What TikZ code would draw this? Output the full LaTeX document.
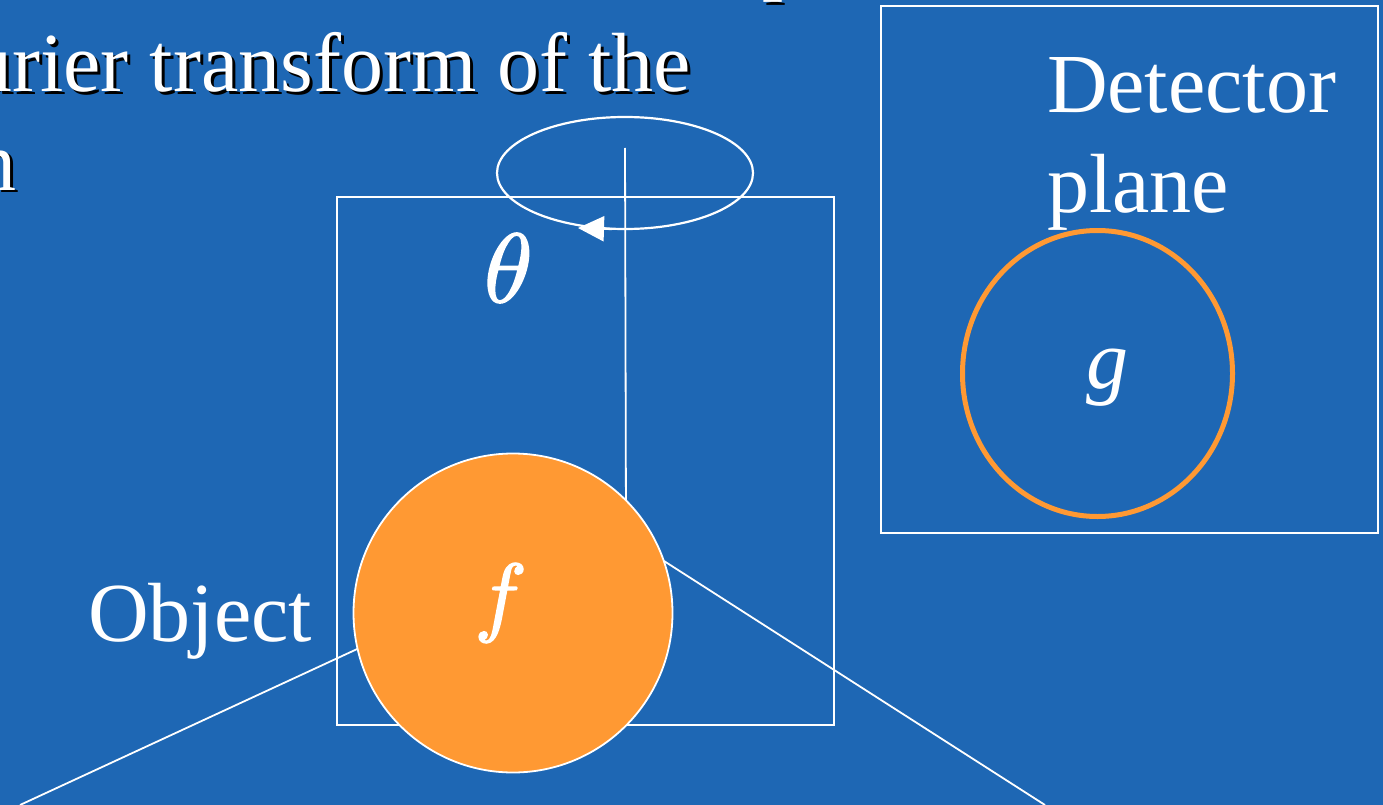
\documentclass[tikz,border=0pt]{standalone}
\usepackage{fontspec}
\setmainfont{Liberation Serif}
\newfontfamily\mathglyph[FakeBold=1.6]{latinmodern-math.otf}
\usetikzlibrary{arrows.meta,shapes.geometric}
\definecolor{bg}{RGB}{30,103,180}
\definecolor{org}{RGB}{255,153,51}
\begin{document}
\begin{tikzpicture}[x=1pt,y=-1pt,
  big/.style={text=white,font=\fontsize{84}{84}\selectfont,inner sep=0pt,outer sep=0pt},
  shade/.style={big,text=black},
  thin/.style={draw=white,line width=1.5pt},
  ray/.style={draw=white,line width=1.8pt}]
\fill[bg] (0,0) rectangle (1383,805);
\clip (0,0) rectangle (1383,805);
% title text with drop shadow
\node[shade,anchor=base west] (ps) at (765,-12) {p};
\node[big,anchor=base west] (p) at (762,-15) {p};
\node[shade,anchor=base east] (t1s) at (694,95) {urier transform of the};
\node[big,anchor=base east] (t1) at (691,92) {urier transform of the};
\node[shade,anchor=base east] (t2s) at (20,193) {n};
\node[big,anchor=base east] (t2) at (17,190) {n};
% frames
\node[thin,rectangle,minimum width=497pt,minimum height=528pt,inner sep=0pt] (frame) at (585.5,461) {};
\node[thin,rectangle,minimum width=497pt,minimum height=527pt,inner sep=0pt] (det) at (1129.5,269.5) {};
% rotation ellipse
\node[draw=white,line width=2.2pt,ellipse,minimum width=256pt,minimum height=112pt,inner sep=0pt] (rot) at (625,173) {};
\coordinate (arrs) at (612,229);
\coordinate (arre) at (578,228);
\draw[white,line width=2.2pt,-{Triangle[length=26pt,width=25pt]}] (arrs) -- (arre);
\node[big,font=\fontsize{98}{98}\mathglyph,anchor=base] (theta) at (507,302) {𝜃};
% rays
\coordinate (axtop) at (625,148);
\coordinate (bl) at (20,805);
\coordinate (br) at (1045,805);
\node[circle,minimum size=319pt,inner sep=0pt] (objpos) at (513,613) {};
\draw[ray] (axtop) -- (objpos.45.5);
\draw[ray] (bl) -- (objpos.193.7);
\draw[ray] (br) -- (objpos.19.2);
% object
\node[circle,fill=org,draw=white,line width=1.8pt,minimum size=319pt,inner sep=0pt] (obj) at (513,613) {};
\node[big,font=\fontsize{88}{88}\mathglyph,anchor=base] (f) at (496,625) {𝑓};
\node[big,anchor=base west] (objlbl) at (88,641) {Object};
% detector
\node[big,anchor=base west] (d1) at (1047,113) {Detector};
\node[big,anchor=base west] (d2) at (1047,212) {plane};
\node[draw=org,line width=5pt,ellipse,minimum width=270pt,minimum height=286pt,inner sep=0pt] (ring) at (1097.5,373.5) {};
\node[big,font=\fontsize{84}{84}\selectfont\itshape,anchor=base] (g) at (1107,388) {g};
\end{tikzpicture}
\end{document}
